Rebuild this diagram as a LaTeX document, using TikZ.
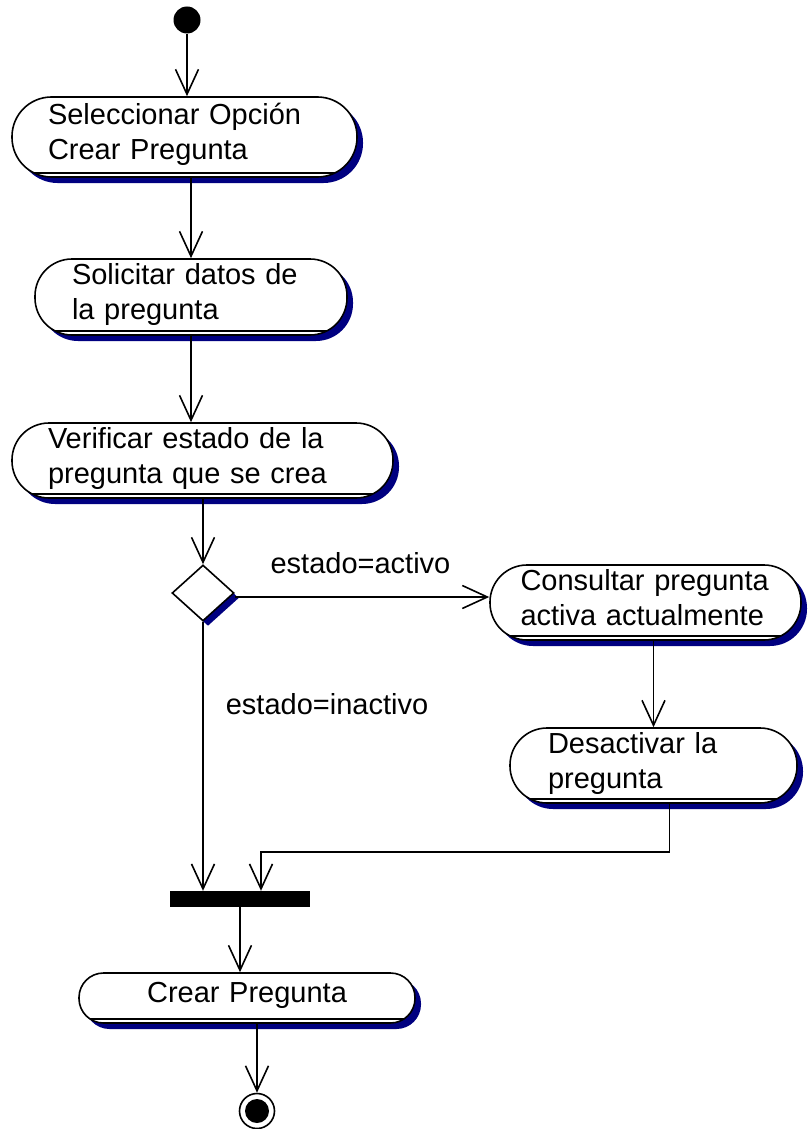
\documentclass[tikz,border=0pt]{standalone}
\usepackage{fontspec}
\setmainfont{Liberation Sans}
\usetikzlibrary{arrows.meta,shapes.geometric,shadows}
\definecolor{shadowblue}{RGB}{0,0,128}

\begin{document}
\begin{tikzpicture}[x=1pt,y=-1pt,
    act/.style={rectangle, rounded corners=37pt, draw, line width=1.6pt, fill=white,
      inner xsep=0pt, inner ysep=0pt, text width=#1, align=left,
      font=\fontsize{29}{35}\selectfont,
      drop shadow={shadow xshift=6pt, shadow yshift=-6pt, fill=shadowblue, opacity=1},
      path picture={\draw[line width=1.4pt, sharp corners] ([yshift=4pt]path picture bounding box.south west)
        -- ([yshift=4pt]path picture bounding box.south east);},
      execute at end node={\rule[-11pt]{0pt}{0pt}}},
    guard/.style={font=\fontsize{29}{35}\selectfont, inner sep=0pt},
    flow/.style={-{Straight Barb[length=25pt,width=23pt]}, line width=1.6pt}]
  \useasboundingbox (0,0) rectangle (807,1129);

  \node[circle, fill=black, minimum size=27pt, inner sep=0pt] (start) at (187,20) {};
  \node[act=273pt, rounded corners=39.5pt, minimum width=345pt, minimum height=80pt] (a1) at (184.5,137) {Seleccionar Opción\\Crear Pregunta};
  \node[act=238pt, minimum width=312pt, minimum height=76pt] (a2) at (191,297) {Solicitar datos de\\la pregunta};
  \node[act=309pt, minimum width=381pt, minimum height=75pt] (a3) at (202.5,460.5) {Verificar estado de la\\pregunta que se crea};
  \node[diamond, draw, fill=white, line width=1.6pt, minimum width=62pt, minimum height=56pt, inner sep=0pt,
    drop shadow={shadow xshift=5pt, shadow yshift=-5pt, fill=shadowblue, opacity=1}] (dec) at (203,593) {};
  \node[act=250pt, minimum width=311pt, minimum height=75pt] (a4) at (645.5,602.5) {Consultar pregunta\\activa actualmente};
  \node[act=211pt, minimum width=287pt, minimum height=75pt] (a5) at (653.5,765.5) {Desactivar la\\pregunta};
  \node[fill=black, minimum width=140pt, minimum height=16pt, inner sep=0pt] (bar) at (240,899) {};
  \node[act=250pt, rounded corners=24.5pt, align=center, minimum width=336pt, minimum height=50pt] (a6) at (247,998) {Crear Pregunta};
  \node[circle, draw, line width=1.6pt, minimum size=35pt, inner sep=0pt,
    path picture={\fill (path picture bounding box.center) circle (12pt);}] (stop) at (257,1111) {};

  \node[guard] (gact) at (360.5,563) {estado=activo};
  \node[guard] (ginact) at (327,704) {estado=inactivo};

  \draw[flow] (start) -- (start |- a1.north);
  \draw[flow] (a2.north |- a1.south) -- (a2.north);
  \draw[flow] (a2.south) -- (a2.south |- a3.north);
  \draw[flow] (dec.north |- a3.south) -- (dec.north);
  \draw[flow] ([yshift=-4pt]dec.east) -- ([yshift=-4pt]dec.east -| a4.west);
  \draw[flow] (a5.north |- a4.south) -- (a5.north);
  \draw[flow] (dec.south) -- (dec.south |- bar.north);
  \draw[flow] ([xshift=16pt]a5.south) -- ++(0,48) -| ([xshift=21pt]bar.north);
  \draw[flow] (bar.south) -- (bar.south |- a6.north);
  \draw[flow] (stop.north |- a6.south) -- (stop.north);
\end{tikzpicture}
\end{document}
